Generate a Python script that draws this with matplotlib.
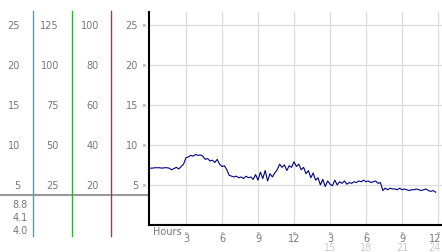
import numpy as np
import matplotlib
matplotlib.use("Agg")
import matplotlib.pyplot as plt

# dew point readings, one every 0.2 h
hours = np.arange(0, 24, 0.2)
dew = [7.1, 7.1, 7.15, 7.15, 7.15, 7.1, 7.15, 7.15, 7.1,
       6.9, 7.05, 7.2, 7.0, 7.3, 7.6,
       8.4, 8.5, 8.7, 8.6, 8.8, 8.7, 8.75, 8.6,
       8.2, 8.3, 8.0, 8.1, 7.8, 8.2, 7.6,
       7.3, 7.4, 6.9, 6.2, 6.1,
       6.0, 6.1, 5.9, 6.0, 5.8, 6.1, 5.9, 6.0, 5.7,
       6.3, 5.6, 6.6, 5.8, 6.8, 5.5, 6.4, 6.0, 6.5, 6.9,
       7.6, 7.2, 7.5, 6.8, 7.4, 7.2, 7.9,
       7.3, 7.6, 6.9, 7.2, 6.4, 6.8, 5.9, 6.5, 5.6, 5.9,
       5.0, 5.7, 4.8, 5.5, 5.1, 4.9, 5.6, 5.0, 5.4,
       5.2, 5.5, 5.1, 5.3, 5.2, 5.4, 5.3, 5.5, 5.4, 5.6, 5.4, 5.5, 5.3, 5.4, 5.5, 5.2, 5.3,
       4.3, 4.6, 4.4, 4.6, 4.5, 4.5, 4.4, 4.6, 4.4, 4.5, 4.4, 4.3, 4.4, 4.4, 4.5, 4.4,
       4.3, 4.4, 4.5, 4.3, 4.2, 4.3, 4.1]

yticks = [5, 10, 15, 20, 25]
xticks = [3, 6, 9, 12, 15, 18, 21, 24]
xlab_top = ['3', '6', '9', '12', '3', '6', '9', '12']
xlab_bot = ['', '', '', '', '15', '18', '21', '24']
# left-hand scale columns (bottom to top)
scale_cols = [[5, 10, 15, 20, 25], [25, 50, 75, 100, 125], [20, 40, 60, 80, 100]]
sep_colors = ['#33aacc', '#33aa33', '#bb3333']
low_vals = ['8.8', '4.1', '4.0']
legend_text = 'Dew Point 01/31/05'

W, H = 442, 253
fig = plt.figure(figsize=(W / 100, H / 100), dpi=100)
txt = '#777777'
fs = 7

# overlay in pixel coords for the left panel
ov = fig.add_axes([0, 0, 1, 1])
ov.set_xlim(0, W)
ov.set_ylim(H, 0)
ov.axis('off')

ax = fig.add_axes([149 / W, (H - 226) / H, 293 / W, 213 / H])
ax.set_xlim(-0.08, 24.33)
ax.set_ylim(0, 26.6)
for s in ['top', 'right']:
    ax.spines[s].set_visible(False)
ax.spines['left'].set_linewidth(1.5)
ax.spines['bottom'].set_linewidth(1.5)
ax.set_yticks(yticks)
ax.set_xticks(xticks)
ax.tick_params(length=0, labelleft=False, labelbottom=False)
ax.grid(True, color='#dcdcdc', linewidth=0.9)
ax.set_axisbelow(True)
ax.plot(hours, dew, color='#000088', linewidth=0.8)

# small tick marks
ax.plot([-0.5] * len(yticks), yticks, 'x', color='#aaaaaa', ms=2, mew=0.6, clip_on=False)
ax.plot(xticks, [-1.0] * len(xticks), 'x', color='#aaaaaa', ms=2, mew=0.6, clip_on=False)

def ypix(v):
    return 226 - v * 8

for x, t1, t2 in zip(xticks, xlab_top, xlab_bot):
    px = 150 + x * 12
    ha = 'center'
    if px + 6 > W:
        px, ha = W - 1, 'right'
    ov.text(px, 239, t1, ha=ha, va='center', fontsize=fs, color=txt)
    if t2:
        ov.text(px, 248, t2, ha=ha, va='center', fontsize=fs, color='#cccccc')
ov.text(153, 232, 'Hours', ha='left', va='center', fontsize=fs, color=txt)

# legend
ov.plot(160, 19, 'o', ms=4.5, color='#b0b0b0', mec='#888888', mew=0.5)
ov.text(165, 19, legend_text, ha='left', va='center', fontsize=fs, color='#2233aa')

# left panel columns
col_x = [20, 59, 99, 138]
for cx, vals in zip(col_x, scale_cols + [scale_cols[0]]):
    for v, yv in zip(vals, yticks):
        ov.text(cx, ypix(yv), str(v), ha='right', va='center', fontsize=fs, color=txt)

ov.plot([0, 149], [196, 196], color='#999999', linewidth=1.5)
for sx, c in zip([33, 72, 111], sep_colors):
    ov.plot([sx, sx], [12, 237], color=c, linewidth=1)
for i, s in enumerate(low_vals):
    ov.text(28, 205 + i * 13, s, ha='right', va='center', fontsize=fs, color=txt)

fig.savefig('out.png', dpi=100)
